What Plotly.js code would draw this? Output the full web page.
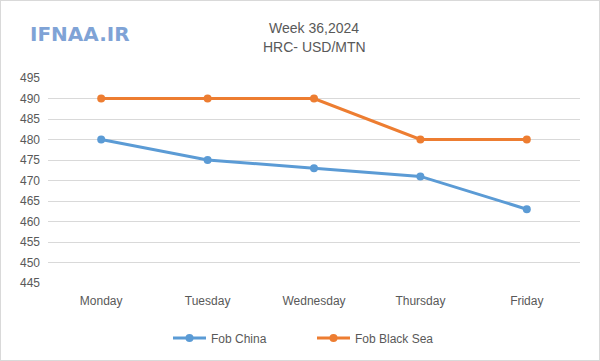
<!DOCTYPE html>
<html>
<head>
<meta charset="utf-8">
<script src="https://cdn.plot.ly/plotly-3.0.1.min.js"></script>
<style>
html,body{margin:0;padding:0;background:#fff;}
#chart{width:598px;height:359px;border:1px solid #d9d9d9;}
</style>
</head>
<body>
<div id="chart"></div>
<script>
const days = ["Monday", "Tuesday", "Wednesday", "Thursday", "Friday"];
const fobChina = [480, 475, 473, 471, 463];
const fobBlackSea = [490, 490, 490, 480, 480];
const yTicks = [445, 450, 455, 460, 465, 470, 475, 480, 485, 490, 495];

const font = "Liberation Sans, Arial, sans-serif";
const traces = [
  {x: days, y: fobChina, name: "Fob China", type: "scatter", mode: "lines+markers",
   line: {color: "#5b9bd5", width: 3}, marker: {color: "#5b9bd5", size: 8}},
  {x: days, y: fobBlackSea, name: "Fob Black Sea", type: "scatter", mode: "lines+markers",
   line: {color: "#ed7d31", width: 3}, marker: {color: "#ed7d31", size: 8}}
];
const layout = {
  width: 598, height: 359,
  margin: {l: 47, r: 19, t: 77, b: 77},
  paper_bgcolor: "#fff", plot_bgcolor: "#fff",
  font: {family: font, color: "#595959", size: 12},
  showlegend: true,
  legend: {orientation: "h", x: 0.5 - 2 / 532, xanchor: "center", yref: "container", y: 1 - 337 / 359, yanchor: "middle",
           font: {size: 12, color: "#595959"}, itemwidth: 33, entrywidth: 96, tracegroupgap: 0},
  xaxis: {type: "category", range: [-0.5, 4.5], showgrid: false, zeroline: false,
          showline: false, ticks: "", ticklabelstandoff: 9, tickfont: {size: 12, color: "#595959"}},
  yaxis: {range: [445, 495], tickvals: yTicks, ticktext: yTicks.map(String),
          showgrid: true, gridcolor: "#d9d9d9", gridwidth: 1, zeroline: false,
          showline: false, ticks: "", ticklabelstandoff: 7, tickfont: {size: 12, color: "#595959"}},
  annotations: [
    {text: "Week 36,2024", xref: "paper", yref: "paper", x: 0.5, y: 1 + (77 - 27) / 205,
     xanchor: "center", yanchor: "middle", showarrow: false, font: {size: 14, color: "#595959"}},
    {text: "HRC- USD/MTN", xref: "paper", yref: "paper", x: 0.5, y: 1 + (77 - 46) / 205,
     xanchor: "center", yanchor: "middle", showarrow: false, font: {size: 14, color: "#595959"}},
    {text: "<b>IFNAA.IR</b>", xref: "paper", yref: "paper", x: -20 / 532, y: 1 + (77 - 33) / 205,
     xanchor: "left", yanchor: "middle", showarrow: false,
     font: {size: 20, color: "#7fa3d6", family: "DejaVu Sans, sans-serif"}}
  ]
};
Plotly.newPlot("chart", traces, layout, {displayModeBar: false, staticPlot: true});
</script>
</body>
</html>
